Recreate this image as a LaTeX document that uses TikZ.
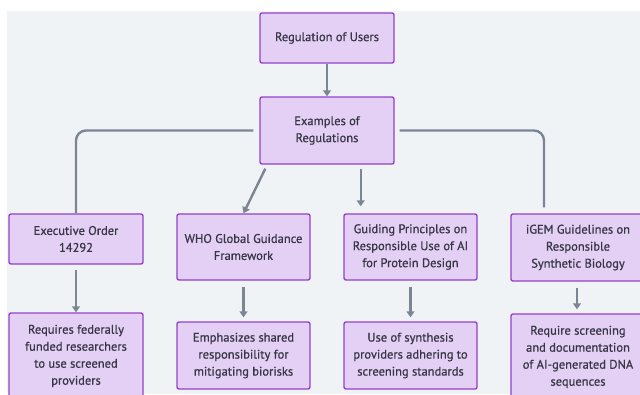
\documentclass[tikz,border=0pt]{standalone}
\usepackage{fontspec}
\setmainfont{PT Sans}[FakeBold=0.7]
\usetikzlibrary{arrows.meta,calc}
\definecolor{bgc}{HTML}{F0F3F6}
\definecolor{boxfill}{HTML}{E4D0F4}
\definecolor{boxdraw}{HTML}{9440CC}
\definecolor{txt}{HTML}{363645}
\definecolor{lnc}{HTML}{7B8594}
\tikzset{
  box/.style={draw=boxdraw, fill=boxfill, line width=1.4pt, rounded corners=2pt,
    text=txt, align=center, inner sep=0pt,
    font=\fontsize{12.5}{17}\selectfont},
  conn/.style={draw=lnc, line width=2.4pt},
  arr/.style={conn, -{Triangle[width=8pt,length=6pt]}}
}
\begin{document}
\begin{tikzpicture}[x=1pt,y=-1pt]
\useasboundingbox (0,0) rectangle (640,394);
\clip (0,0) rectangle (640,394);
\fill[white] (0,0) rectangle (640,394);
\fill[bgc] (7,11) rectangle (640,394);

\node[box, minimum width=134pt, minimum height=50pt] (n1) at (327,38) {Regulation of Users};
\node[box, minimum width=134pt, minimum height=67pt] (n2) at (327,130.5) {Examples of\\Regulations};

\node[box, minimum width=134pt, minimum height=50pt] (e1) at (76,239) {Executive Order\\14292};
\node[box, minimum width=133pt, minimum height=66pt] (w1) at (243.5,247) {WHO Global Guidance\\Framework};
\node[box, minimum width=133pt, minimum height=66pt] (g1) at (410.5,247) {Guiding Principles on\\Responsible Use of AI\\for Protein Design};
\node[box, minimum width=134pt, minimum height=67pt] (i1) at (578,247.5) {iGEM Guidelines on\\Responsible\\Synthetic Biology};

\node[box, minimum width=134pt, minimum height=86pt] (e2) at (76,356) {Requires federally\\funded researchers\\to use screened\\providers};
\node[box, minimum width=133pt, minimum height=67pt] (w2) at (243.5,355.5) {Emphasizes shared\\responsibility for\\mitigating biorisks};
\node[box, minimum width=133pt, minimum height=67pt] (g2) at (410.5,355.5) {Use of synthesis\\providers adhering to\\screening standards};
\node[box, minimum width=134pt, minimum height=86pt] (i2) at (578,357) {Require screening\\and documentation\\of AI-generated DNA\\sequences};

\draw[arr] (n1.south) -- (n2.north);

\draw[conn, rounded corners=10pt] ($(n2.west)+(-6,0)$) -| (e1.north);
\draw[conn, rounded corners=10pt] ($(n2.east)+(5,0)$) -| ($(i1.north)+(-34,-6)$);
\draw[arr] ($(n2.south west)+(6,4)$) -- (w1.north);
\coordinate (gs) at ($(n2.south east)+(-34,4)$);
\coordinate (ge) at ($(g1.north west)+(16,-7)$);
\draw[arr] (gs) -- (gs |- ge);

\draw[arr] ($(e1.south)+(0,5)$) -- (e2.north);
\draw[arr] ($(w1.south)+(0,6)$) -- ($(w2.north)+(0,-4)$);
\draw[arr] ($(g1.south)+(0,6)$) -- ($(g2.north)+(0,-4)$);
\draw[arr] ($(i1.south)+(-1,6)$) -- ($(i2.north)+(-1,-4)$);
\end{tikzpicture}
\end{document}
